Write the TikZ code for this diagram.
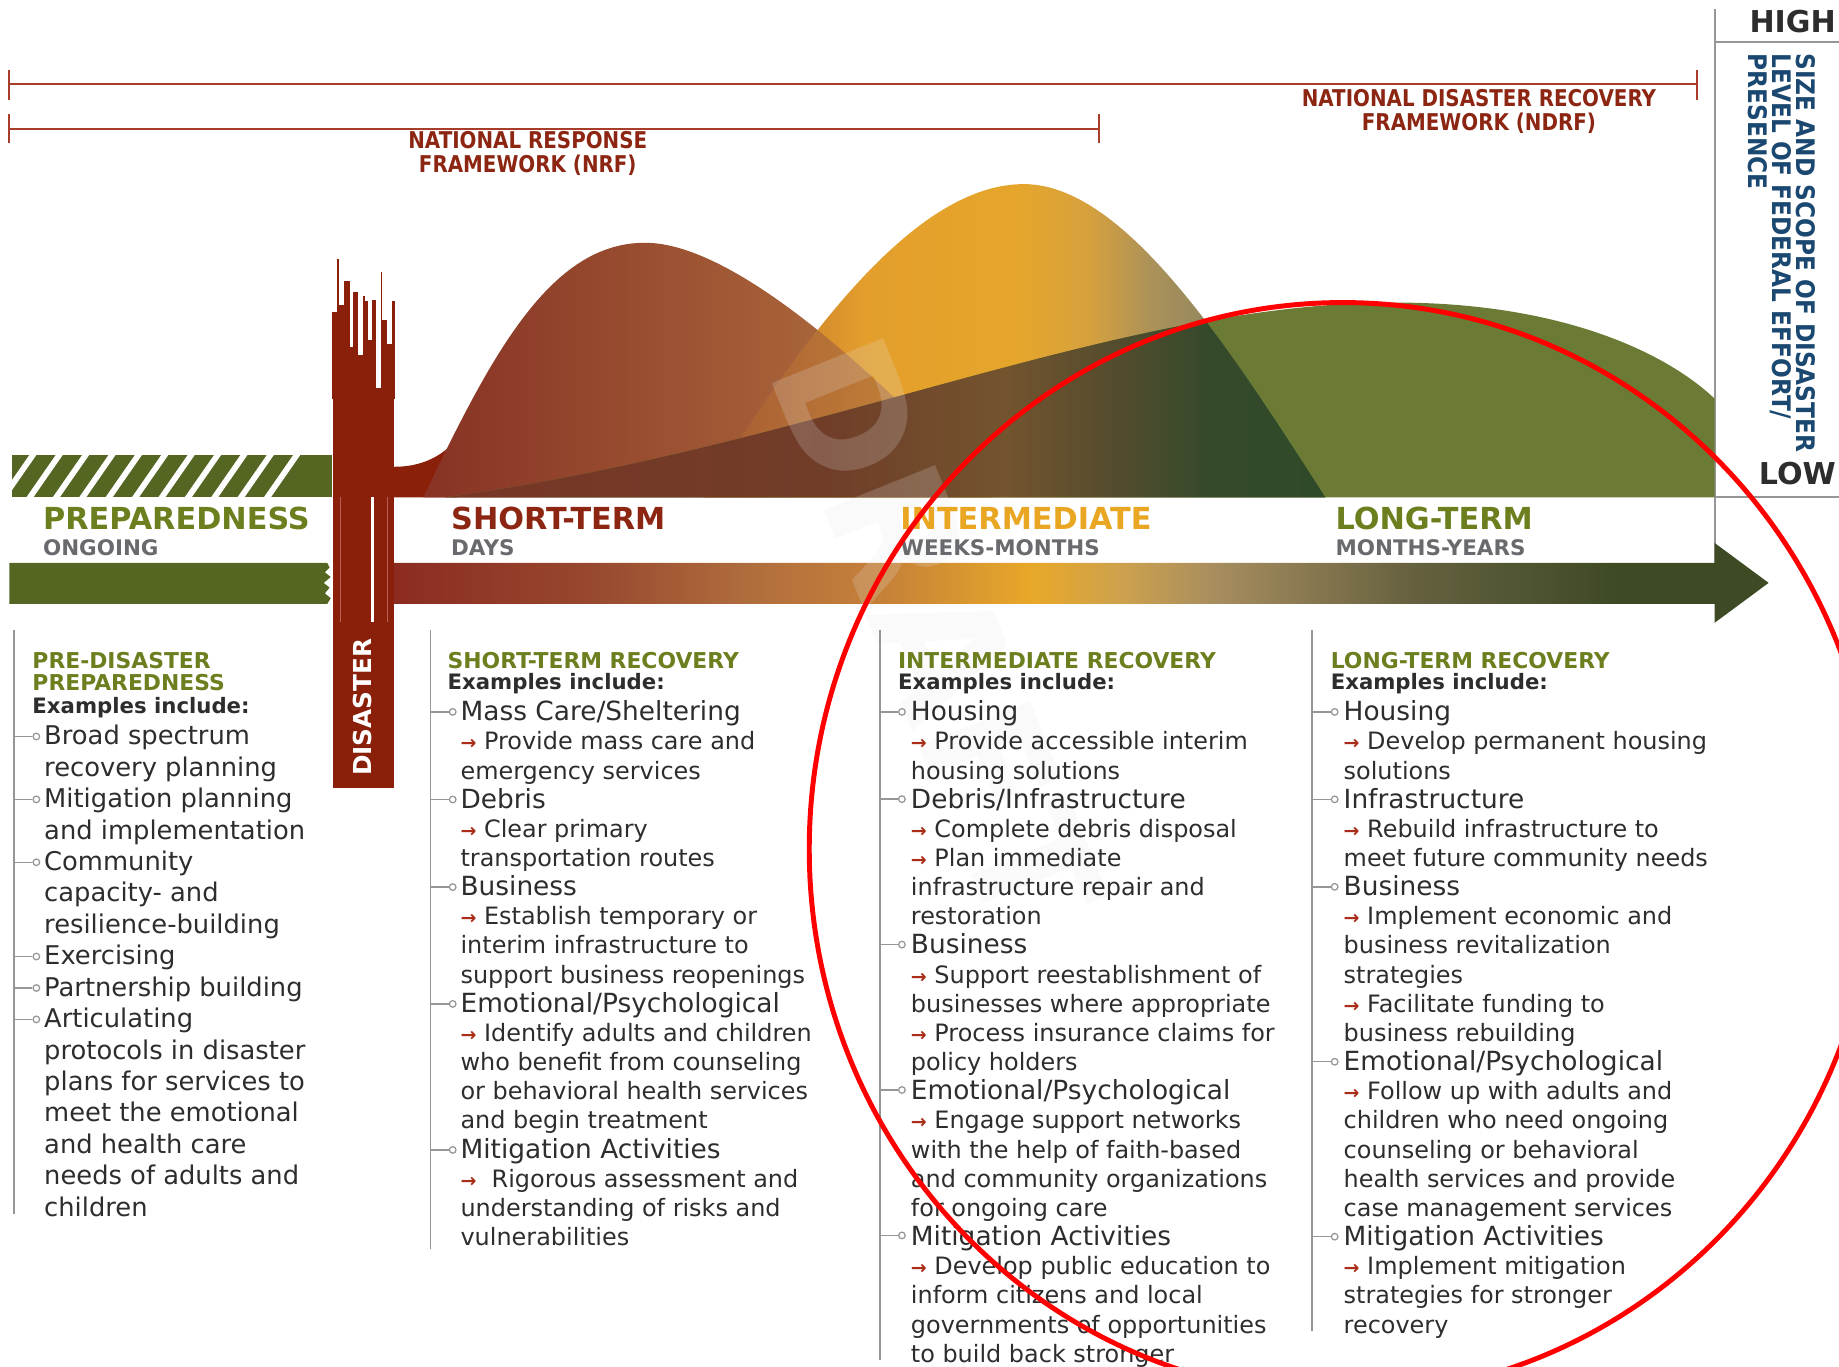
\documentclass[tikz,border=0pt]{standalone}
\usepackage{fontspec}
\setmainfont{DejaVu Sans}
\newfontfamily\narrowfont[FakeStretch=0.86]{DejaVu Sans}
\newfontfamily\axisfont[FakeStretch=0.91]{DejaVu Sans}
\usetikzlibrary{calc}

\definecolor{olivebar}{RGB}{85,101,34}
\definecolor{olivetext}{RGB}{107,127,31}
\definecolor{disred}{RGB}{139,32,10}
\definecolor{nrfred}{RGB}{140,38,18}
\definecolor{arrowred}{RGB}{170,45,25}
\definecolor{goldtext}{RGB}{233,166,35}
\definecolor{phasegray}{RGB}{105,106,110}
\definecolor{bodytext}{RGB}{45,45,45}
\definecolor{axisblue}{RGB}{26,72,112}
\definecolor{rulegray}{RGB}{150,150,150}
\definecolor{bracketred}{RGB}{168,62,42}
\definecolor{longolive}{RGB}{107,122,53}

\pgfdeclarehorizontalshading{timeline}{100bp}{
  rgb(0bp)=(0.55,0.17,0.13); rgb(25bp)=(0.55,0.17,0.13);
  rgb(32bp)=(0.59,0.28,0.18); rgb(38bp)=(0.69,0.43,0.24);
  rgb(43bp)=(0.78,0.51,0.22); rgb(48.2bp)=(0.91,0.66,0.16);
  rgb(51.6bp)=(0.80,0.63,0.31); rgb(55bp)=(0.65,0.55,0.37);
  rgb(62bp)=(0.40,0.38,0.25); rgb(69.5bp)=(0.24,0.29,0.14);
  rgb(100bp)=(0.24,0.29,0.14)}
\pgfdeclarehorizontalshading{midhump}{100bp}{
  rgb(0bp)=(0.72,0.40,0.20); rgb(25bp)=(0.72,0.40,0.20);
  rgb(38bp)=(0.89,0.62,0.17); rgb(50bp)=(0.90,0.65,0.17);
  rgb(56bp)=(0.84,0.63,0.24); rgb(61bp)=(0.67,0.57,0.35);
  rgb(66bp)=(0.57,0.53,0.37); rgb(75bp)=(0.50,0.50,0.33);
  rgb(100bp)=(0.50,0.50,0.33)}
\pgfdeclarehorizontalshading{longdark}{100bp}{
  rgb(0bp)=(0.47,0.21,0.15); rgb(25bp)=(0.47,0.21,0.15);
  rgb(40bp)=(0.44,0.24,0.16); rgb(47bp)=(0.45,0.33,0.18);
  rgb(51bp)=(0.34,0.30,0.18); rgb(55bp)=(0.21,0.29,0.17);
  rgb(60bp)=(0.18,0.29,0.16); rgb(100bp)=(0.18,0.29,0.16)}

\newcommand\hd{\fontsize{6.4}{7.07}\selectfont}
\newcommand\sm{\fontsize{5.8}{7.07}\selectfont}
\newcommand\goal{{\fontsize{4.6}{7.07}\selectfont\bfseries\color{arrowred}→}\ }

\def\brownhump{(361,424) .. controls (420,300) and (470,207) .. (550,207) .. controls (630,207) and (760,330) .. (845,424) -- cycle}
\def\goldhump{(600,424) .. controls (700,260) and (790,157) .. (873,157) .. controls (960,157) and (1050,300) .. (1130,424) -- cycle}
\def\longhump{(380,424) .. controls (700,380) and (950,258) .. (1190,258) .. controls (1330,258) and (1420,300) .. (1462,340) -- (1462,424) -- cycle}

\tikzset{
  spanline/.style={draw=bracketred, line width=0.5pt},
  framelabel/.style={align=center, inner sep=0pt, text=nrfred, font=\narrowfont\bfseries\fontsize{5.6}{5.7}\selectfont},
  axisrule/.style={draw=rulegray, line width=0.4pt},
  axisword/.style={inner sep=0pt, text=bodytext, font=\bfseries\fontsize{7.3}{7.3}\selectfont},
  phase/.style={inner sep=0pt, anchor=west, font=\bfseries\fontsize{7.35}{7.35}\selectfont},
  during/.style={inner sep=0pt, anchor=west, text=phasegray, font=\bfseries\fontsize{5.2}{5.2}\selectfont},
  coltitle/.style={inner sep=0pt, anchor=west, text=olivetext, font=\bfseries\fontsize{5.3}{5.3}\selectfont},
  examples/.style={inner sep=0pt, anchor=base west, text=bodytext, font=\bfseries\fontsize{5.15}{5.3}\selectfont},
  body/.style={inner sep=0pt, anchor=base west, text=bodytext},
  colrule/.style={draw=rulegray, line width=0.45pt},
  tick/.style={draw=rulegray, line width=0.35pt},
  dot/.style={circle, draw=rulegray, fill=white, line width=0.3pt, inner sep=0pt, minimum size=1.6pt},
  ring/.style={draw=red, line width=1.2pt}
}

\begin{document}
\begin{tikzpicture}[x=0.01cm, y=-0.01cm]
\useasboundingbox (0,0) rectangle (1568,1165);
\clip (0,0) rectangle (1568,1165);

% framework spans
\draw[spanline] (8,60) -- (8,85) (8,72) -- (1447,72) (1447,60) -- (1447,85);
\draw[spanline] (8,97) -- (8,122) (8,110) -- (937,110) (937,97) -- (937,122);
\node[framelabel] (nrf) at (450,131) {NATIONAL RESPONSE\\FRAMEWORK (NRF)};
\node[framelabel] (ndrf) at (1261,95) {NATIONAL DISASTER RECOVERY\\FRAMEWORK (NDRF)};

% effort axis
\draw[axisrule] (1462,8) -- (1462,480);
\draw[axisrule] (1462,36) -- (1568,36);
\draw[axisrule] (1462,424) -- (1568,424);
\node[axisword, anchor=east] (high) at (1566,18) {HIGH};
\node[axisword, anchor=east] (low) at (1566,404) {LOW};
\node[rotate=-90, anchor=north west, align=left, inner sep=0pt, text=axisblue,
  font=\axisfont\bfseries\fontsize{6.2}{5.83}\selectfont] (effort) at (1549,45)
  {SIZE AND SCOPE OF DISASTER\\LEVEL OF FEDERAL EFFORT/\\PRESENCE};

% preparedness bar
\begin{scope}
  \clip (10,388) rectangle (283,424);
  \fill[olivebar] (10,388) rectangle (283,424);
  \foreach \i in {0,...,10}
    \fill[white] (22.5*\i,424) -- ++(6,0) -- ++(25,-36) -- ++(-6,0) -- cycle;
\end{scope}
\fill[olivebar] (8,480) -- (279,480) -- (281,484) -- (277,488) -- (282,492) -- (276,497)
  -- (281,501) -- (277,506) -- (282,510) -- (279,515) -- (8,515) -- cycle;

% disaster column
\fill[disred] (284,335) rectangle (336,672);
\foreach \xa/\xb/\yt in {283.5/287/266, 287/289/221, 289/293.6/260, 293.6/298/240,
    298/301.3/296, 301.3/305.6/249, 305.6/309.8/303, 309.8/311/252, 311/314/257,
    314/317/290, 317/320.5/256, 320.5/325/331, 325/326/232, 326/330/273,
    330/334/293, 334/336.5/257}
  \fill[disred] (\xa,\yt) rectangle (\xb,340);
\fill[disred] (336,398) .. controls (352,398) and (368,394) .. (382,382) -- (390,424) -- (336,424) -- cycle;

% recovery humps
\shade[left color={rgb,255:red,135;green,50;blue,36}, right color={rgb,255:red,182;green,122;blue,68}] \brownhump;
\shade[shading=midhump] \goldhump;
\begin{scope}
  \clip \goldhump;
  \shade[opacity=0.7, left color={rgb,255:red,135;green,50;blue,36}, right color={rgb,255:red,182;green,122;blue,68}] \brownhump;
\end{scope}
\fill[longolive] \longhump;
\begin{scope}
  \clip \brownhump \goldhump;
  \shade[shading=longdark] \longhump;
\end{scope}

% timeline arrow
\shade[shading=timeline] (336,480) -- (1462,480) -- (1462,463) -- (1508,497) -- (1462,531)
  -- (1462,515) -- (336,515) -- cycle;
\draw[white, line width=0.7pt] (317.5,424) -- (317.5,530);
\draw[disred!70!white, line width=0.25pt] (290,424) -- (290,530) (330,424) -- (330,530);
\node[rotate=90, inner sep=0pt, text=white, font=\bfseries\fontsize{6}{6}\selectfont] (disaster) at (309,603) {DISASTER};

% watermark
\node[rotate=-68, inner sep=0pt, text=gray!20, text opacity=0.2,
  font=\bfseries\fontsize{40}{40}\selectfont] (draft) at (800,540) {DRAFT};

% phases
\node[phase, text=olivetext] (prep) at (36,442) {PREPAREDNESS};
\node[during] (ongoing) at (36,467) {ONGOING};
\node[phase, text=nrfred] (short) at (384,442) {SHORT-TERM};
\node[during] (days) at (384,467) {DAYS};
\node[phase, text=goldtext] (inter) at (767,442) {INTERMEDIATE};
\node[during] (weeks) at (767,467) {WEEKS-MONTHS};
\node[phase, text=olivetext] (long) at (1138,442) {LONG-TERM};
\node[during] (years) at (1138,467) {MONTHS-YEARS};

% column rules
\coordinate (c1) at (12,537);
\coordinate (c2) at (367,537);
\coordinate (c3) at (750,537);
\coordinate (c4) at (1119,537);
\draw[colrule] (c1) -- ++(0,498);
\draw[colrule] (c2) -- ++(0,528);
\draw[colrule] (c3) -- ++(0,623);
\draw[colrule] (c4) -- ++(0,598);

% pre-disaster column
\node[coltitle] (t1a) at (27,563) {PRE-DISASTER};
\node[coltitle] (t1b) at (27,582) {PREPAREDNESS};
\node[examples] (e1) at (27,608.5) {Examples include:};
\node[body] (x1) at (37,635) {\parbox[t]{4cm}{\raggedright\fontsize{6.25}{7.62}\selectfont
  Broad spectrum\\ recovery planning\\ Mitigation planning\\ and implementation\\
  Community\\ capacity- and\\ resilience-building\\ Exercising\\ Partnership building\\
  Articulating\\ protocols in disaster\\ plans for services to\\ meet the emotional\\
  and health care\\ needs of adults and\\ children}};
\foreach \k in {0,2,4,7,8,9}{
  \node[dot] (p\k) at (31,628+26.8*\k) {};
  \draw[tick] (p\k) -- (p\k -| c1);
}

% short-term column
\node[coltitle] (t2) at (381,563) {SHORT-TERM RECOVERY};
\node[examples] (e2) at (381,587.5) {Examples include:};
\node[body] (x2) at (392,614.5) {\parbox[t]{5cm}{\raggedright\hd
  \hd Mass Care/Sheltering\\ \sm\goal Provide mass care and\\ emergency services\\
  \hd Debris\\ \sm\goal Clear primary\\ transportation routes\\
  \hd Business\\ \sm\goal Establish temporary or\\ interim infrastructure to\\ support business reopenings\\
  \hd Emotional/Psychological\\ \sm\goal Identify adults and children\\ who benefit from counseling\\ or behavioral health services\\ and begin treatment\\
  \hd Mitigation Activities\\ \sm\goal \ Rigorous assessment and\\ understanding of risks and\\ vulnerabilities}};
\foreach \k in {0,3,6,10,15}{
  \node[dot] (s\k) at (386,607+24.9*\k) {};
  \draw[tick] (s\k) -- (s\k -| c2);
}

% intermediate column
\node[coltitle] (t3) at (765,563) {INTERMEDIATE RECOVERY};
\node[examples] (e3) at (765,587.5) {Examples include:};
\node[body] (x3) at (776,614.5) {\parbox[t]{5cm}{\raggedright\hd
  \hd Housing\\ \sm\goal Provide accessible interim\\ housing solutions\\
  \hd Debris/Infrastructure\\ \sm\goal Complete debris disposal\\ \goal Plan immediate\\ infrastructure repair and\\ restoration\\
  \hd Business\\ \sm\goal Support reestablishment of\\ businesses where appropriate\\ \goal Process insurance claims for\\ policy holders\\
  \hd Emotional/Psychological\\ \sm\goal Engage support networks\\ with the help of faith-based\\ and community organizations\\ for ongoing care\\
  \hd Mitigation Activities\\ \sm\goal Develop public education to\\ inform citizens and local\\ governments of opportunities\\ to build back stronger}};
\foreach \k in {0,3,8,13,18}{
  \node[dot] (m\k) at (769,607+24.8*\k) {};
  \draw[tick] (m\k) -- (m\k -| c3);
}

% long-term column
\node[coltitle] (t4) at (1134,563) {LONG-TERM RECOVERY};
\node[examples] (e4) at (1134,587.5) {Examples include:};
\node[body] (x4) at (1145,614.5) {\parbox[t]{5cm}{\raggedright\hd
  \hd Housing\\ \sm\goal Develop permanent housing\\ solutions\\
  \hd Infrastructure\\ \sm\goal Rebuild infrastructure to\\ meet future community needs\\
  \hd Business\\ \sm\goal Implement economic and\\ business revitalization\\ strategies\\ \goal Facilitate funding to\\ business rebuilding\\
  \hd Emotional/Psychological\\ \sm\goal Follow up with adults and\\ children who need ongoing\\ counseling or behavioral\\ health services and provide\\ case management services\\
  \hd Mitigation Activities\\ \sm\goal Implement mitigation\\ strategies for stronger\\ recovery}};
\foreach \k in {0,3,6,12,18}{
  \node[dot] (l\k) at (1138,607+24.86*\k) {};
  \draw[tick] (l\k) -- (l\k -| c4);
}

% highlight ring
\draw[ring] (1145,724) ellipse [x radius=455, y radius=466];
\end{tikzpicture}
\end{document}
